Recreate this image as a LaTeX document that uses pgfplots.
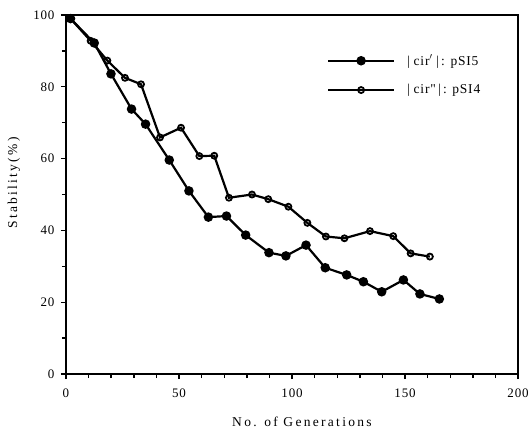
\documentclass[border=0pt]{standalone}
\usepackage{fontspec}
\setmainfont{Liberation Serif}
\newfontfamily\labelfont[LetterSpace=17]{Liberation Serif}
\newfontfamily\tickfont[LetterSpace=6]{Liberation Serif}
\usepackage{pgfplots}
\usepackage{pgfplotstable}
\pgfplotsset{compat=1.18}

% Plasmid stability over generations
\pgfplotstableread{
gen stab
2     99
12.5  92.2
19.9  83.6
29    73.8
35.2  69.6
45.7  59.6
54.4  51
63    43.7
71    44
79.5  38.7
89.8  33.8
97.3  32.9
106.2 35.9
114.7 29.6
124.2 27.6
131.6 25.7
139.7 22.9
149.3 26.2
156.6 22.3
165.2 20.9
}\pSIfive

\pgfplotstableread{
gen stab
2     99
10.9  92.8
18.3  87.3
26.1  82.5
33.2  80.7
41.6  65.9
50.9  68.6
59    60.7
65.6  60.8
72.1  49.1
82.3  50
89.5  48.7
98.4  46.6
106.8 42.1
115   38.3
123.2 37.8
134.5 39.8
144.8 38.4
152.5 33.6
161   32.7
}\pSIfour

\begin{document}
\begin{tikzpicture}
\begin{axis}[
  scale only axis,
  width=452pt, height=359pt,
  xmin=0, xmax=200, ymin=0, ymax=100,
  xtick={0,50,...,200}, minor xtick={10,20,...,190},
  ytick={0,20,...,100}, minor ytick={10,30,...,90},
  tick pos=left, tick align=outside,
  major tick length=5pt, minor tick length=4pt,
  every tick/.style={black, line width=1.4pt},
  axis line style={line width=2.1pt},
  /pgf/number format/assume math mode=true,
  ticklabel style={font=\tickfont\fontsize{13}{15}\selectfont},
  yticklabel style={xshift=-3pt},
  xticklabel style={yshift=-6pt},
  xlabel={No. of Generations},
  ylabel={Stability(\%)},
  label style={font=\labelfont\fontsize{13.5}{15}\selectfont},
  xlabel style={at={(axis description cs:0.522,-0.134)}, anchor=center},
  ylabel style={at={(axis description cs:-0.115,0.532)}, anchor=center},
  legend cell align=left,
  legend style={draw=none, fill=none, inner sep=0pt,
    at={(axis description cs:0.577,0.895)}, anchor=north west,
    font=\tickfont\fontsize{13.5}{15}\selectfont,
    row sep=14pt,
    /tikz/every even column/.append style={column sep=14pt},
    /tikz/every odd column/.append style={column sep=10pt}},
  legend image code/.code={%
    \draw[mark repeat=2,mark phase=2] plot coordinates {(0pt,0pt) (33pt,0pt) (66pt,0pt)};},
]
\addplot[black, line width=2.2pt, mark=*, mark size=3.6pt,
  mark options={solid, fill=black}] table[x=gen, y=stab] {\pSIfive};
\addlegendentry{|\;cir$'$\;|\,: pSI5}
\addplot[black, line width=2.2pt, mark=o, mark size=3pt,
  mark options={solid, fill=white, line width=1.8pt}] table[x=gen, y=stab] {\pSIfour};
\addlegendentry{|\;cir"\,|\,: pSI4}
\end{axis}
\pgfresetboundingbox
\path[use as bounding box] (-66pt,-60pt) rectangle (463pt,374pt);
\end{tikzpicture}
\end{document}
